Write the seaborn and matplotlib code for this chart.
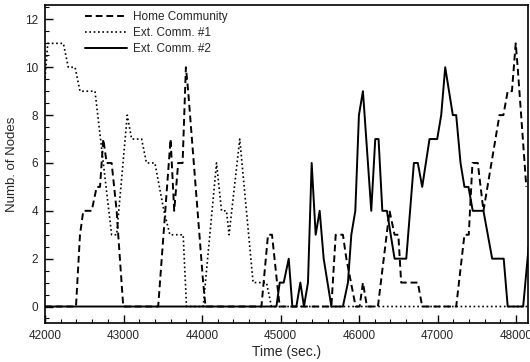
import matplotlib
matplotlib.use("Agg")
import matplotlib.pyplot as plt
import seaborn as sns
from matplotlib.ticker import MultipleLocator

# Data (time in sec., number of nodes)
home_t = [42000, 42394, 42445, 42487, 42594, 42658, 42700, 42742, 42785, 42848,
          42912, 42932, 42996, 43441, 43599, 43645, 43696, 43752, 43794, 43823,
          44014, 44044, 44756, 44840, 44891, 44955, 44989, 45647, 45702, 45794,
          45838, 45956, 46007, 46049, 46100, 46240, 46388, 46452, 46500, 46536,
          46748, 46804, 47237, 47342, 47397, 47444, 47512, 47584, 47788, 47838,
          47893, 47947, 47995, 48020, 48130]
home_n = [0, 0, 3, 4, 4, 5, 5, 7, 6, 6,
          4, 3, 0, 0, 7, 4, 6, 6, 10, 9,
          1, 0, 0, 3, 3, 1, 0, 0, 3, 3,
          2, 0, 0, 1, 0, 0, 4, 3, 3, 1,
          1, 0, 0, 3, 3, 6, 6, 4, 8, 8,
          9, 9, 11, 10, 5]

ext1_t = [41985, 42035, 42233, 42296, 42382, 42445, 42636, 42848, 42912, 43047,
          43103, 43230, 43292, 43399, 43514, 43590, 43759, 43802, 44014, 44184,
          44248, 44311, 44344, 44480, 44650, 44820, 44884, 48150]
ext1_n = [9, 11, 11, 10, 10, 9, 9, 3, 3, 8,
          7, 7, 6, 6, 4, 3, 3, 0, 0, 6,
          4, 4, 3, 7, 1, 1, 0, 0]

ext2_t = [42000, 44947, 44989, 45040, 45104, 45150, 45201, 45252, 45298, 45349,
          45396, 45447, 45498, 45549, 45647, 45794, 45858, 45901, 45952, 45998,
          46049, 46155, 46206, 46248, 46296, 46354, 46452, 46601, 46698, 46748,
          46804, 46897, 46995, 47046, 47097, 47194, 47237, 47292, 47342, 47393,
          47448, 47584, 47695, 47842, 47893, 48090, 48160]
ext2_n = [0, 0, 1, 1, 2, 0, 0, 1, 0, 1,
          6, 3, 4, 2, 0, 0, 1, 3, 4, 8,
          9, 4, 7, 7, 4, 4, 2, 2, 6, 6,
          5, 7, 7, 8, 10, 8, 8, 6, 5, 5,
          4, 4, 2, 2, 0, 0, 2.5]

sns.set_style("ticks")
plt.rcParams["font.family"] = ["Liberation Sans", "DejaVu Sans"]

fig, ax = plt.subplots(figsize=(5.3, 3.62), dpi=100)
fig.subplots_adjust(left=0.085, right=0.996, top=0.986, bottom=0.107)

sns.lineplot(x=home_t, y=home_n, ax=ax, color="black", lw=1.4,
             linestyle=(0, (3.5, 2)), label="Home Community")
sns.lineplot(x=ext1_t, y=ext1_n, ax=ax, color="black", lw=1.2,
             linestyle=(0, (1, 1.6)), label="Ext. Comm. #1")
sns.lineplot(x=ext2_t, y=ext2_n, ax=ax, color="black", lw=1.4,
             label="Ext. Comm. #2")

ax.set_xlim(42000, 48150)
ax.set_ylim(-0.7, 12.6)
ax.xaxis.set_major_locator(MultipleLocator(1000))
ax.xaxis.set_minor_locator(MultipleLocator(200))
ax.yaxis.set_major_locator(MultipleLocator(2))
ax.yaxis.set_minor_locator(MultipleLocator(0.5))
ax.tick_params(which="both", direction="in", labelsize=8.5, color="black")
ax.tick_params(which="major", length=6, width=1, pad=5)
ax.tick_params(which="minor", length=3, width=0.8)
for s in ax.spines.values():
    s.set_linewidth(1.2)
    s.set_color("black")

ax.set_xlabel("Time (sec.)", fontsize=10, labelpad=2)
ax.set_ylabel("Numb. of Nodes", fontsize=9.5, labelpad=5)

ax.legend(loc="upper left", bbox_to_anchor=(0.06, 1.015), frameon=False,
          fontsize=8.5, handlelength=3.6, handletextpad=0.5,
          labelspacing=0.35, borderpad=0.4)

plt.savefig("out.png", dpi=100)
